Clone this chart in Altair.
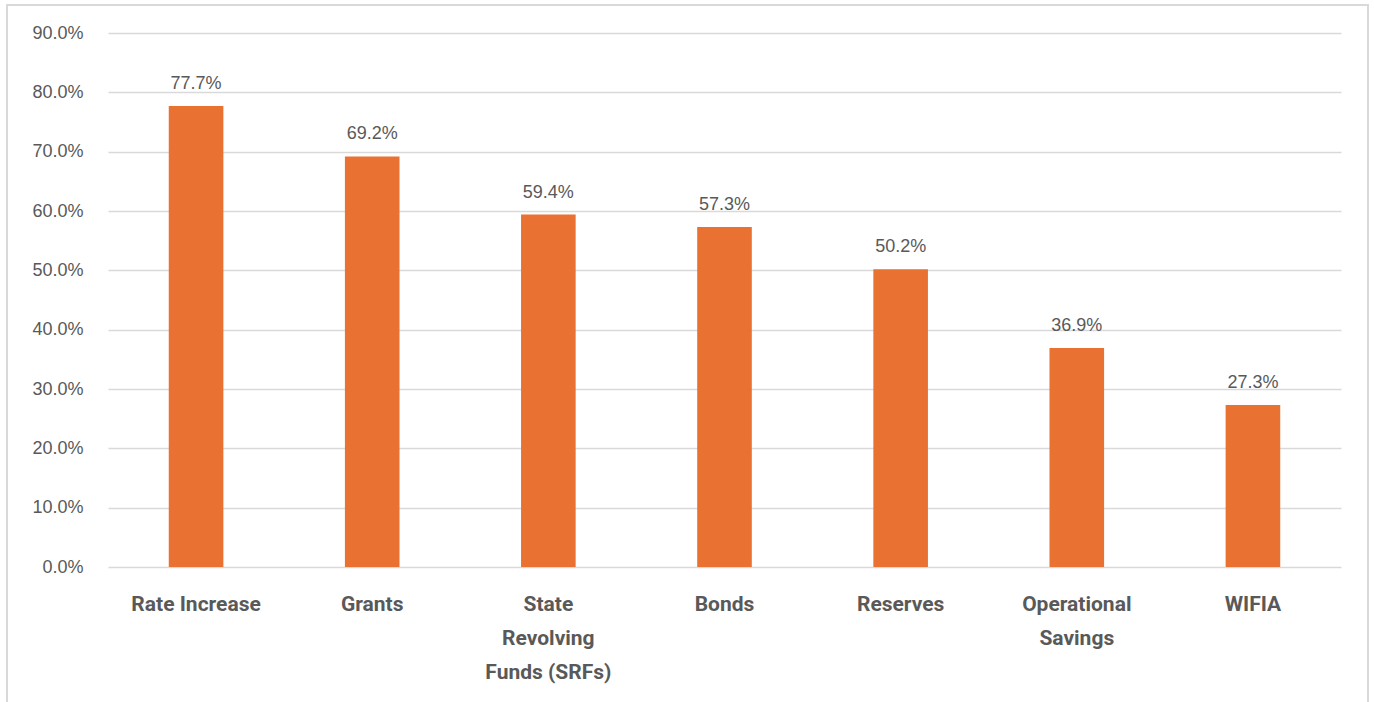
import altair as alt
import pandas as pd

categories = ["Rate Increase", "Grants", "State|Revolving|Funds  (SRFs)", "Bonds",
              "Reserves", "Operational|Savings", "WIFIA"]
values = [0.777, 0.692, 0.594, 0.573, 0.502, 0.369, 0.273]
y_ticks = [0.0, 0.1, 0.2, 0.3, 0.4, 0.5, 0.6, 0.7, 0.8, 0.9]

df = pd.DataFrame({"category": categories, "value": values})

W, H = 1233, 534

x = alt.X("category:N", sort=categories, title=None,
          scale=alt.Scale(paddingInner=0.69, paddingOuter=0.345),
          axis=alt.Axis(labelAngle=0, labelExpr="split(datum.label, '|')",
                        labelFont="Roboto", labelFontWeight="bold", labelFontSize=21,
                        labelColor="#595959", labelPadding=26, labelLineHeight=34,
                        domain=False, ticks=False, grid=False))
y = alt.Y("value:Q", title=None,
          scale=alt.Scale(domain=[0, 0.9], nice=False),
          axis=alt.Axis(values=y_ticks, format=".1%", labelFont="Liberation Sans",
                        labelFontSize=18, labelColor="#595959", labelPadding=25,
                        domain=False, ticks=False, grid=True, gridColor="#d9d9d9",
                        gridWidth=1.5))

bars = alt.Chart(df).mark_bar(color="#E97132").encode(x=x, y=y)
labels = alt.Chart(df).mark_text(baseline="middle", dy=-22, fontSize=18,
                                  font="Liberation Sans", color="#595959").encode(
    x=alt.X("category:N", sort=categories), y="value:Q",
    text=alt.Text("value:Q", format=".1%"))

frame = alt.Chart(pd.DataFrame({"k": [0]})).mark_rect(
    fill=None, stroke="#d9d9d9", strokeWidth=2).encode(
    x=alt.value(-101), x2=alt.value(1260), y=alt.value(-28), y2=alt.value(680))

chart = alt.layer(frame, bars, labels).properties(
    width=W, height=H,
    padding={"left": 108, "top": 33, "right": 33, "bottom": 135},
    autosize=alt.AutoSizeParams(type="none"),
).configure(background="white", view=alt.ViewConfig(stroke="transparent", strokeWidth=0))

chart.save("out.html", embed_options={"renderer": "svg", "actions": False})
